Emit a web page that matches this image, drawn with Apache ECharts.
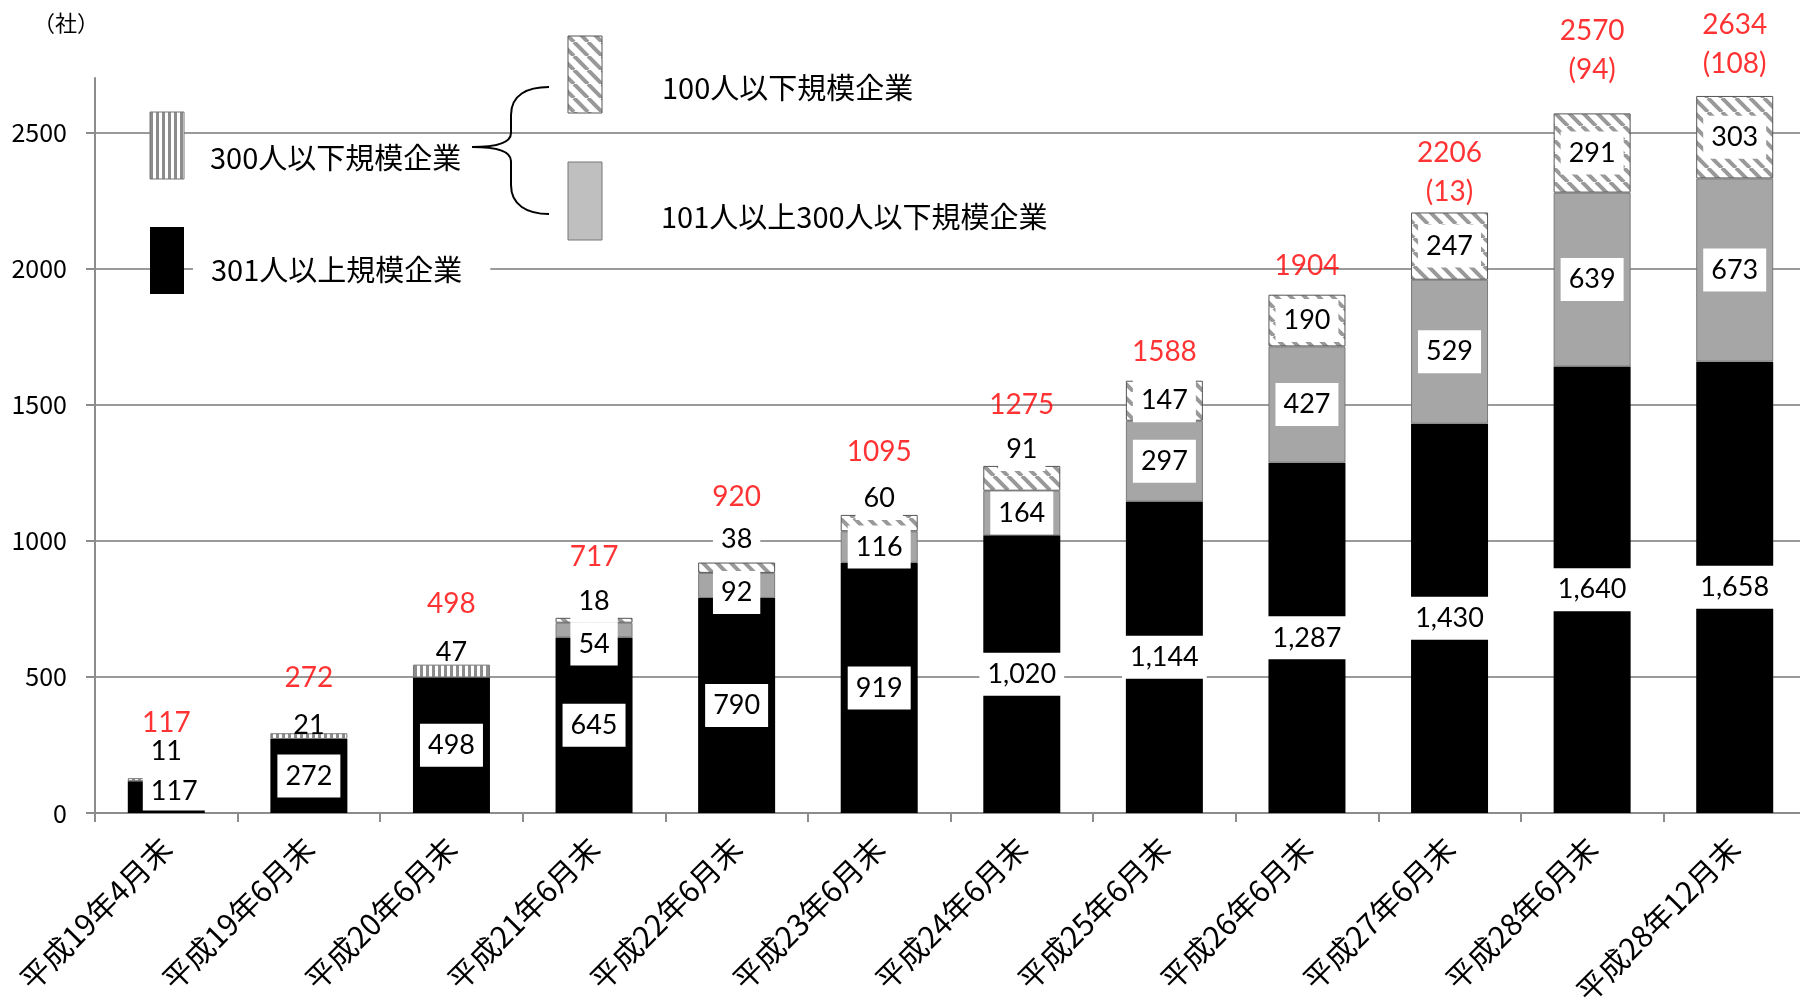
<!DOCTYPE html>
<html>
<head>
<meta charset="utf-8">
<script src="https://cdn.jsdelivr.net/npm/echarts@6/dist/echarts.min.js"></script>
<style>
  html, body { margin: 0; padding: 0; background: #fff; }
  #chart { width: 1800px; height: 1001px; }
</style>
</head>
<body>
<div id="chart"></div>
<script>
// 調査時点
const categories = ['平成19年4月末', '平成19年6月末', '平成20年6月末', '平成21年6月末', '平成22年6月末', '平成23年6月末',
  '平成24年6月末', '平成25年6月末', '平成26年6月末', '平成27年6月末', '平成28年6月末', '平成28年12月末'];

// 企業規模別の社数
const over300 = [117, 272, 498, 645, 790, 919, 1020, 1144, 1287, 1430, 1640, 1658];       // 301人以上
const from101to300 = [null, null, null, 54, 92, 116, 164, 297, 427, 529, 639, 673];        // 101～300人
const upTo100 = [null, null, null, 18, 38, 60, 91, 147, 190, 247, 291, 303];              // 100人以下
const upTo300 = [11, 21, 47, null, null, null, null, null, null, null, null, null];       // 300人以下（内訳なし）

// 赤字の見出し値と括弧内の数
const headline = [117, 272, 498, 717, 920, 1095, 1275, 1588, 1904, 2206, 2570, 2634];
const headlineNote = [null, null, null, null, null, null, null, null, null, 13, 94, 108];

// 縦軸の目盛
const yTicks = [0, 500, 1000, 1500, 2000, 2500];

// ラベル位置の微調整
const labelNudge = {
  over300: { 0: { offset: [8, -6], padding: [10, 8, 2, 8] } },
  from101to300: { 3: { offset: [0, 14] }, 4: { offset: [0, 7] } },
  upTo100: { 4: { offset: [0, -7] } },
  upTo300: { 0: { offset: [0, -14] }, 1: { offset: [0, 5] } },
  headline: { 0: { offset: [0, 6] }, 1: { offset: [0, 6] }, 4: { offset: [0, -5] }, 5: { offset: [0, -2] }, 9: { offset: [0, 8] }, 10: { offset: [0, -14] }, 11: { offset: [0, -3] } }
};

function stripePattern() {
  const c = document.createElement('canvas');
  c.width = 6; c.height = 6;
  const g = c.getContext('2d');
  g.fillStyle = '#ffffff'; g.fillRect(0, 0, 6, 6);
  g.fillStyle = '#8c8c8c'; g.fillRect(0, 0, 3, 6);
  return { image: c, repeat: 'repeat' };
}

function hatchPattern() {
  const s = 14;
  const c = document.createElement('canvas');
  c.width = s; c.height = s;
  const g = c.getContext('2d');
  g.fillStyle = '#ffffff'; g.fillRect(0, 0, s, s);
  g.strokeStyle = '#999999'; g.lineWidth = 4;
  for (let k = -1; k <= 1; k++) {
    g.beginPath(); g.moveTo(k * s, 0); g.lineTo(k * s + s, s); g.stroke();
  }
  return { image: c, repeat: 'repeat' };
}

const stripes = stripePattern();
const hatch = hatchPattern();

const numFont = 'Lato';
const jpFont = 'Noto Sans CJK JP';

const boxLabel = {
  show: true, position: 'inside', fontFamily: numFont, fontSize: 27, color: '#000',
  backgroundColor: '#fff', padding: [8, 8],
  formatter: p => Number(p.value).toLocaleString('en-US')
};

function items(values, key, extra) {
  return values.map((v, i) => {
    if (v == null) return '-';
    const item = { value: v };
    const lab = Object.assign({}, extra ? extra(v, i) : {}, (labelNudge[key] || {})[i] || {});
    if (Object.keys(lab).length) item.label = lab;
    return item;
  });
}

const stackTotal = categories.map((c, i) =>
  over300[i] + (from101to300[i] || 0) + (upTo100[i] || 0) + (upTo300[i] || 0));

function topLabelOutside(i) {
  return upTo300[i] != null || (upTo100[i] != null && upTo100[i] < 100);
}

const barW = 77;
const braceStyle = { stroke: '#000', lineWidth: 2, fill: null };

const option = {
  animation: false,
  backgroundColor: '#fff',
  textStyle: { fontFamily: numFont },
  grid: { left: 95, right: -6, top: 78, bottom: 188, containLabel: false, outerBoundsMode: 'none' },
  xAxis: {
    type: 'category', data: categories, boundaryGap: true,
    axisLine: { show: true, lineStyle: { color: '#8c8c8c', width: 2 } },
    axisTick: { show: true, length: 9, lineStyle: { color: '#8c8c8c', width: 2 } },
    axisLabel: { interval: 0, rotate: 45, margin: 30, fontSize: 30, fontFamily: jpFont, color: '#000' },
    splitLine: { show: false }
  },
  yAxis: {
    type: 'value', min: 0, max: 2700, interval: 500,
    axisLine: { show: true, lineStyle: { color: '#8c8c8c', width: 2 } },
    axisTick: { show: true, length: 9, customValues: yTicks, lineStyle: { color: '#8c8c8c', width: 2 } },
    axisLabel: { customValues: yTicks, margin: 28, fontSize: 25, fontFamily: jpFont, color: '#000', formatter: v => String(v) },
    splitLine: { show: true, lineStyle: { color: '#9a9a9a', width: 2 } }
  },
  series: [
    {
      name: '301人以上規模企業', type: 'bar', stack: 'total', barWidth: barW,
      itemStyle: { color: '#000' },
      label: boxLabel,
      data: items(over300, 'over300')
    },
    {
      name: '101人以上300人以下規模企業', type: 'bar', stack: 'total', barWidth: barW,
      itemStyle: { color: '#a6a6a6', borderColor: '#7a7a7a', borderWidth: 1 },
      label: boxLabel,
      data: items(from101to300, 'from101to300')
    },
    {
      name: '100人以下規模企業', type: 'bar', stack: 'total', barWidth: barW,
      itemStyle: { color: hatch, borderColor: '#555', borderWidth: 1 },
      label: boxLabel,
      data: items(upTo100, 'upTo100', v => v < 100 ? { position: 'top', distance: -5 } : { position: 'inside' })
    },
    {
      name: '300人以下規模企業', type: 'bar', stack: 'total', barWidth: barW,
      itemStyle: { color: stripes, borderColor: '#777', borderWidth: 1 },
      label: { show: true, position: 'top', distance: -1, fontFamily: numFont, fontSize: 27, color: '#000' },
      data: items(upTo300, 'upTo300')
    },
    {
      name: '合計', type: 'scatter', symbolSize: 1, silent: true,
      itemStyle: { color: 'rgba(0,0,0,0)' },
      label: {
        show: true, position: 'top', fontFamily: numFont, fontSize: 28, color: '#ff0000', lineHeight: 39,
        formatter: p => headline[p.dataIndex] + (headlineNote[p.dataIndex] != null ? '\n(' + headlineNote[p.dataIndex] + ')' : '')
      },
      data: stackTotal.map((v, i) => ({
        value: v,
        label: Object.assign({ distance: topLabelOutside(i) ? 41 : 9 }, labelNudge.headline[i] || {})
      }))
    }
  ],
  graphic: [
    { type: 'text', x: 33, y: 23, style: { text: '（社）', font: '22px "Noto Sans CJK JP"', fill: '#000', verticalAlign: 'middle' } },
    // 凡例
    { type: 'rect', shape: { x: 150, y: 112, width: 34, height: 67 }, style: { fill: stripes, stroke: '#777', lineWidth: 1 }, z: 10 },
    { type: 'text', x: 210, y: 158, style: { text: '300人以下規模企業', font: '29px "Noto Sans CJK JP"', fill: '#000', verticalAlign: 'middle' }, z: 10 },
    { type: 'rect', shape: { x: 150, y: 227, width: 34, height: 67 }, style: { fill: '#000' }, z: 10 },
    { type: 'text', x: 193, y: 270, style: { text: '301人以上規模企業', font: '29px "Noto Sans CJK JP"', fill: '#000', verticalAlign: 'middle', backgroundColor: '#fff', padding: [4, 28, 4, 18] }, z: 10 },
    // 中括弧
    { type: 'bezierCurve', shape: { x1: 549, y1: 87, cpx1: 527, cpy1: 87, cpx2: 511, cpy2: 95, x2: 511, y2: 115 }, style: braceStyle, z: 10 },
    { type: 'line', shape: { x1: 511, y1: 115, x2: 511, y2: 133 }, style: braceStyle, z: 10 },
    { type: 'bezierCurve', shape: { x1: 511, y1: 133, cpx1: 511, cpy1: 142, cpx2: 498, cpy2: 147, x2: 472, y2: 147 }, style: braceStyle, z: 10 },
    { type: 'bezierCurve', shape: { x1: 472, y1: 147, cpx1: 498, cpy1: 147, cpx2: 511, cpy2: 152, x2: 511, y2: 161 }, style: braceStyle, z: 10 },
    { type: 'line', shape: { x1: 511, y1: 161, x2: 511, y2: 185 }, style: braceStyle, z: 10 },
    { type: 'bezierCurve', shape: { x1: 511, y1: 185, cpx1: 511, cpy1: 205, cpx2: 527, cpy2: 214, x2: 549, y2: 214 }, style: braceStyle, z: 10 },
    { type: 'rect', shape: { x: 568, y: 36, width: 34, height: 77 }, style: { fill: hatch, stroke: '#555', lineWidth: 1 }, z: 10 },
    { type: 'text', x: 662, y: 88, style: { text: '100人以下規模企業', font: '29px "Noto Sans CJK JP"', fill: '#000', verticalAlign: 'middle' }, z: 10 },
    { type: 'rect', shape: { x: 568, y: 162, width: 34, height: 78 }, style: { fill: '#bfbfbf', stroke: '#777', lineWidth: 1 }, z: 10 },
    { type: 'text', x: 661, y: 217, style: { text: '101人以上300人以下規模企業', font: '29px "Noto Sans CJK JP"', fill: '#000', verticalAlign: 'middle' }, z: 10 }
  ]
};

const chart = echarts.init(document.getElementById('chart'), null, { renderer: 'canvas' });
chart.setOption(option);
</script>
</body>
</html>
